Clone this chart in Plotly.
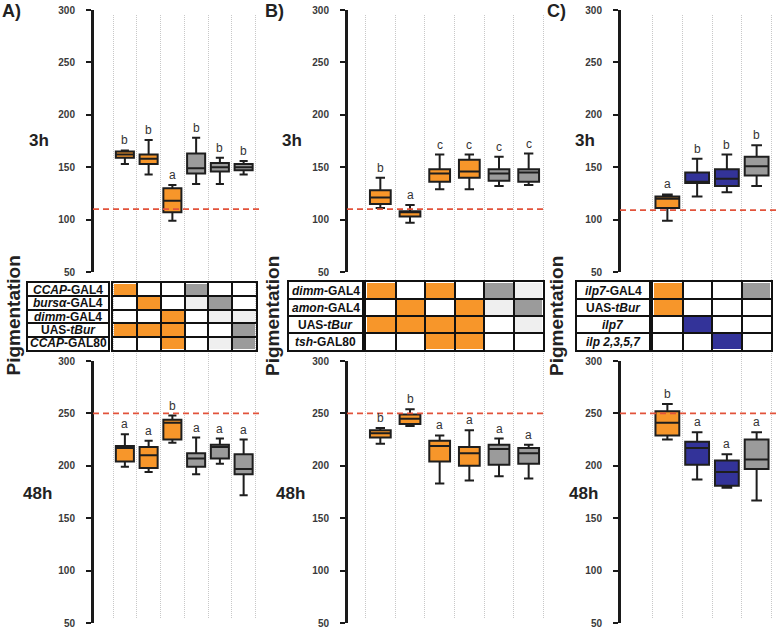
import plotly.graph_objects as go

W, H = 778, 630
FONT = "Liberation Sans"

# ---------------- data ----------------
ORANGE = "#F7962A"
GRAY = "#9B9B9B"
LIGHT = "#EFEFEF"
BLUE = "#333399"
WHITE = "#FFFFFF"

# Panel A
A_colors = ["O", "O", "O", "G", "G", "G"]
A_3h_lower = [153, 143, 99, 134, 134, 143]
A_3h_q1 = [159, 153, 107, 144, 146, 147]
A_3h_med = [162, 158, 118, 149, 150, 150]
A_3h_q3 = [165, 162, 130, 163, 154, 153]
A_3h_upper = [166, 176, 133, 178, 159, 156]
A_3h_letters = ["b", "b", "a", "b", "b", "b"]
A_48h_lower = [199, 194, 222, 192, 202, 172]
A_48h_q1 = [204, 198, 225, 199, 207, 192]
A_48h_med = [217, 210, 241, 207, 218, 197]
A_48h_q3 = [219, 218, 244, 212, 220, 211]
A_48h_upper = [230, 224, 248, 227, 226, 225]
A_48h_letters = ["a", "a", "b", "a", "a", "a"]
A_rows = ["<i>CCAP</i>-GAL4", "<i>bursα</i>-GAL4", "<i>dimm</i>-GAL4",
          "UAS-<i>tBur</i>", "<i>CCAP</i>-GAL80"]
A_table = ["OWWGWW", "WOWLGW", "WWOWLL", "OOOWWG", "WWOWLG"]
A_thr_3h, A_thr_48h = 110, 250

# Panel B
B_colors = ["O", "O", "O", "O", "G", "G"]
B_3h_lower = [111, 97, 129, 129, 132, 133]
B_3h_q1 = [115, 103, 136, 140, 137, 136]
B_3h_med = [121, 107, 144, 146, 144, 145]
B_3h_q3 = [128, 108, 148, 157, 148, 148]
B_3h_upper = [140, 114, 162, 162, 160, 163]
B_3h_letters = ["b", "a", "c", "c", "c", "c"]
B_48h_lower = [221, 238, 183, 186, 190, 188]
B_48h_q1 = [227, 240, 204, 200, 201, 202]
B_48h_med = [231, 245, 219, 212, 216, 212]
B_48h_q3 = [234, 249, 224, 218, 220, 217]
B_48h_upper = [236, 254, 229, 234, 226, 220]
B_48h_letters = ["b", "b", "a", "a", "a", "a"]
B_rows = ["<i>dimm</i>-GAL4", "<i>amon</i>-GAL4", "UAS-<i>tBur</i>", "<i>tsh</i>-GAL80"]
B_table = ["OWOWGL", "WOWOLG", "OOOOWL", "WWOOWW"]
B_thr_3h, B_thr_48h = 110, 250

# Panel C
C_colors = ["O", "B", "B", "G"]
C_3h_lower = [99, 122, 126, 132]
C_3h_q1 = [111, 135, 132, 142]
C_3h_med = [120, 136, 139, 151]
C_3h_q3 = [122, 145, 148, 160]
C_3h_upper = [124, 158, 162, 171]
C_3h_letters = ["a", "b", "b", "b"]
C_48h_lower = [225, 187, 179, 167]
C_48h_q1 = [229, 201, 181, 197]
C_48h_med = [241, 217, 194, 206]
C_48h_q3 = [252, 223, 205, 225]
C_48h_upper = [259, 232, 211, 232]
C_48h_letters = ["b", "a", "a", "a"]
C_rows = ["<i>ilp7</i>-GAL4", "UAS-<i>tBur</i>", "<i>ilp7</i>", "<i>ilp 2,3,5,7</i>"]
C_table = ["OWWG", "OWWW", "WBWW", "WWBW"]
C_thr_3h, C_thr_48h = 109, 250

y_ticks = [50, 100, 150, 200, 250, 300]

COLOR = {"O": ORANGE, "G": GRAY, "L": LIGHT, "B": BLUE, "W": WHITE}
CODE = {"W": 0, "L": 1, "G": 2, "O": 3, "B": 4}
CSCALE = [[0, WHITE], [0.125, WHITE], [0.125, LIGHT], [0.375, LIGHT],
          [0.375, GRAY], [0.625, GRAY], [0.625, ORANGE], [0.875, ORANGE],
          [0.875, BLUE], [1, BLUE]]

# ---------------- layout geometry (pixels) ----------------
def fx(p):
    return p / W

def fy(p):
    return 1 - p / H

panels = [
    dict(name="A", axis=93, c0=113, c1=255.5, right=260, n=6, bw=0.76,
         tab_x=(113, 256), tab_y=(283, 350), lab_x=(28, 108),
         colors=A_colors, rows=A_rows, table=A_table,
         d3=(A_3h_lower, A_3h_q1, A_3h_med, A_3h_q3, A_3h_upper, A_3h_letters, A_thr_3h),
         d48=(A_48h_lower, A_48h_q1, A_48h_med, A_48h_q3, A_48h_upper, A_48h_letters, A_thr_48h),
         tag=(0, 11), pig=12.5, h3=(27, 140), h48=(21, 493)),
    dict(name="B", axis=347, c0=365.5, c1=543.5, right=545, n=6, bw=0.7,
         tab_x=(366, 543), tab_y=(282, 350), lab_x=(289, 362),
         colors=B_colors, rows=B_rows, table=B_table,
         d3=(B_3h_lower, B_3h_q1, B_3h_med, B_3h_q3, B_3h_upper, B_3h_letters, B_thr_3h),
         d48=(B_48h_lower, B_48h_q1, B_48h_med, B_48h_q3, B_48h_upper, B_48h_letters, B_thr_48h),
         tag=(263, 11), pig=272, h3=(280, 140), h48=(274, 493)),
    dict(name="C", axis=620, c0=652.5, c1=771.5, right=778, n=4, bw=0.8,
         tab_x=(653, 771), tab_y=(282, 350), lab_x=(577, 649),
         colors=C_colors, rows=C_rows, table=C_table,
         d3=(C_3h_lower, C_3h_q1, C_3h_med, C_3h_q3, C_3h_upper, C_3h_letters, C_thr_3h),
         d48=(C_48h_lower, C_48h_q1, C_48h_med, C_48h_q3, C_48h_upper, C_48h_letters, C_thr_48h),
         tag=(545, 11), pig=556, h3=(573, 140), h48=(567, 493)),
]

TOP_Y = (10, 272)
BOT_Y = (361, 623)
BG_Y = (15, 618)

fig = go.Figure()
layout = dict(width=W, height=H, margin=dict(l=0, r=0, t=0, b=0, autoexpand=False),
              paper_bgcolor="white", plot_bgcolor="rgba(0,0,0,0)",
              boxmode="overlay", showlegend=False)
annotations = []
shapes = []

def ax_name(i):
    return "" if i == 1 else str(i)

hidden_x = dict(showticklabels=False, ticks="", showgrid=False, zeroline=False,
                showline=False, fixedrange=True, automargin=False)

np_ = len(panels)
for pi, P in enumerate(panels):
    n = P["n"]
    unit = (P["c1"] - P["c0"]) / n
    xr = [0.5 - (P["c0"] - P["axis"]) / unit, n + 0.5 + (P["right"] - P["c1"]) / unit]
    xdom = [fx(P["axis"]), fx(P["right"])]
    bounds = [k + 0.5 for k in range(n + 1)]

    # background dotted column separators
    i_bg = 1 + pi
    s = ax_name(i_bg)
    fig.add_trace(go.Scatter(x=[None], y=[None], xaxis="x" + s, yaxis="y" + s,
                             hoverinfo="skip"))
    layout["xaxis" + s] = dict(domain=xdom, range=xr, anchor="y" + s,
                               tickmode="array", tickvals=bounds, showgrid=True,
                               gridcolor="#C8C8C8", griddash="1px,1px", gridwidth=1,
                               showticklabels=False, ticks="", zeroline=False,
                               showline=False, fixedrange=True, automargin=False)
    layout["yaxis" + s] = dict(domain=[fy(BG_Y[1]), fy(BG_Y[0])], range=[0, 1],
                               anchor="x" + s, visible=False, automargin=False)

    # box plots top / bottom
    for ti, (ydom_px, data) in enumerate([(TOP_Y, P["d3"]), (BOT_Y, P["d48"])]):
        idx = 1 + np_ + ti * np_ + pi
        s = ax_name(idx)
        lower, q1, med, q3, upper, letters, thr = data
        for k in range(n):
            fig.add_trace(go.Box(
                x=[k + 1], q1=[q1[k]], median=[med[k]], q3=[q3[k]],
                lowerfence=[lower[k]], upperfence=[upper[k]],
                fillcolor=COLOR[P["colors"][k]],
                line=dict(color="#1E1E1E", width=2),
                width=P["bw"], whiskerwidth=0.45, boxpoints=False,
                xaxis="x" + s, yaxis="y" + s, hoverinfo="skip"))
            annotations.append(dict(
                x=k + 1, y=upper[k], xref="x" + s, yref="y" + s,
                text=letters[k], showarrow=False, yanchor="bottom", yshift=1,
                font=dict(family=FONT, size=12, color="#333333")))
        layout["xaxis" + s] = dict(domain=xdom, range=xr, anchor="y" + s, **hidden_x)
        layout["yaxis" + s] = dict(
            domain=[fy(ydom_px[1]), fy(ydom_px[0])], range=[50, 300],
            anchor="x" + s, tickmode="array", tickvals=y_ticks,
            showline=True, linecolor="#1A1A1A", linewidth=2,
            ticks="outside", ticklen=5, tickwidth=2, tickcolor="#1A1A1A",
            ticklabelstandoff=9,
            tickfont=dict(family=FONT, size=10, color="#3A3A3A", weight="bold"),
            showgrid=False, zeroline=False, fixedrange=True, automargin=False)
        # axis spine (drawn explicitly so it sits above overlapping subplots)
        shapes.append(dict(type="line", xref="x" + s + " domain", yref="y" + s + " domain",
                           x0=0, x1=0, y0=0, y1=1, layer="above",
                           line=dict(color="#1A1A1A", width=2)))
        shapes.append(dict(type="line", xref="x" + s + " domain", yref="y" + s,
                           x0=0, x1=1, y0=thr, y1=thr,
                           line=dict(color="#E2533B", width=1.6, dash="6px,4px")))

    # table of genotypes
    nr = len(P["rows"])
    idx = 1 + 3 * np_ + pi
    s = ax_name(idx)
    z = [[CODE[c] for c in row] for row in P["table"]]
    fig.add_trace(go.Heatmap(z=z, x=list(range(n)), y=list(range(nr)),
                             colorscale=CSCALE, zmin=0, zmax=4, showscale=False,
                             xgap=2, ygap=2, xaxis="x" + s, yaxis="y" + s,
                             hoverinfo="skip"))
    grid_common = dict(showgrid=True, gridcolor="#111111", gridwidth=2,
                       showticklabels=False, ticks="", zeroline=False,
                       showline=True, mirror=True, linecolor="#111111",
                       linewidth=2, fixedrange=True, tickmode="array",
                       automargin=False)
    layout["xaxis" + s] = dict(domain=[fx(P["tab_x"][0]), fx(P["tab_x"][1])],
                               range=[-0.5, n - 0.5], anchor="y" + s,
                               tickvals=[k - 0.5 for k in range(n + 1)], **grid_common)
    layout["yaxis" + s] = dict(domain=[fy(P["tab_y"][1]), fy(P["tab_y"][0])],
                               range=[nr - 0.5, -0.5], anchor="x" + s,
                               tickvals=[k - 0.5 for k in range(nr + 1)], **grid_common)

    # row labels
    idx = 1 + 4 * np_ + pi
    s = ax_name(idx)
    fig.add_trace(go.Heatmap(z=[[0] for _ in range(nr)], x=[0], y=list(range(nr)),
                             colorscale=[[0, WHITE], [1, WHITE]], showscale=False,
                             xgap=2, ygap=2, xaxis="x" + s, yaxis="y" + s,
                             hoverinfo="skip"))
    layout["xaxis" + s] = dict(domain=[fx(P["lab_x"][0]), fx(P["lab_x"][1])],
                               range=[-0.5, 0.5], anchor="y" + s,
                               tickvals=[-0.5, 0.5], **grid_common)
    layout["yaxis" + s] = dict(domain=[fy(P["tab_y"][1]), fy(P["tab_y"][0])],
                               range=[nr - 0.5, -0.5], anchor="x" + s,
                               tickvals=[k - 0.5 for k in range(nr + 1)], **grid_common)
    for r, lab in enumerate(P["rows"]):
        annotations.append(dict(x=0, y=r, xref="x" + s, yref="y" + s, text=lab,
                                showarrow=False,
                                font=dict(family=FONT, size=12, color="#111111",
                                          weight="bold")))

    # panel texts
    annotations.append(dict(x=fx(P["tag"][0]), y=fy(P["tag"][1]), xref="paper", yref="paper",
                            text=P["name"] + ")", showarrow=False, xanchor="left",
                            yanchor="middle",
                            font=dict(family=FONT, size=18, color="#222222", weight="bold")))
    annotations.append(dict(x=fx(P["pig"]), y=fy(316), xref="paper", yref="paper",
                            text="Pigmentation", showarrow=False, textangle=-90,
                            xanchor="center", yanchor="middle",
                            font=dict(family=FONT, size=19, color="#222222", weight="bold")))
    annotations.append(dict(x=fx(P["h3"][0]), y=fy(P["h3"][1]), xref="paper", yref="paper",
                            text="3h", showarrow=False, xanchor="left", yanchor="middle",
                            font=dict(family=FONT, size=17, color="#222222", weight="bold")))
    annotations.append(dict(x=fx(P["h48"][0]), y=fy(P["h48"][1]), xref="paper", yref="paper",
                            text="48h", showarrow=False, xanchor="left", yanchor="middle",
                            font=dict(family=FONT, size=17, color="#222222", weight="bold")))

layout["annotations"] = annotations
layout["shapes"] = shapes
fig.update_layout(**layout)
fig.write_html("out.html", config={"displayModeBar": False},
               post_script="document.body.style.margin='0';")
